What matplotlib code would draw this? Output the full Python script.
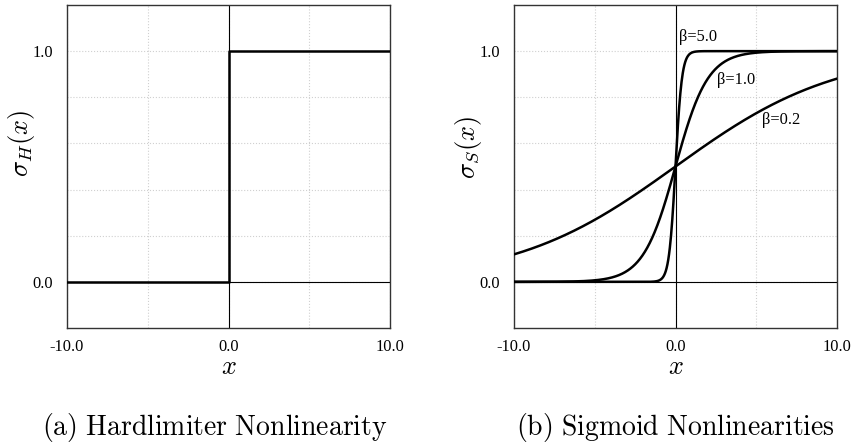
import numpy as np
import matplotlib
matplotlib.use("Agg")
import matplotlib.pyplot as plt

plt.rcParams['mathtext.fontset'] = 'cm'

# Data
step_x = [-10.0, 0.0, 0.0, 10.0]
step_y = [0.0, 0.0, 1.0, 1.0]
betas = [5.0, 1.0, 0.2]
beta_labels = ["β=5.0", "β=1.0", "β=0.2"]
label_pos = [(0.22, 1.06), (2.57, 0.874), (5.36, 0.70)]
x_ticks = [-10, -5, 0, 5, 10]
x_ticklabels = ["-10.0", "", "0.0", "", "10.0"]
y_ticks = [0.0, 0.2, 0.4, 0.6, 0.8, 1.0]
y_ticklabels = ["0.0", "", "", "", "", "1.0"]

xs = np.linspace(-10, 10, 801)

fig = plt.figure(figsize=(8.56, 4.46), dpi=100)
W, H = 856, 446
axA = fig.add_axes([67 / W, 1 - 328 / H, 323 / W, 323 / H])
axB = fig.add_axes([514 / W, 1 - 328 / H, 323 / W, 323 / H])

tick_font = dict(family='Liberation Serif', size=11.8)

def style(ax, ylabel, ly):
    ax.set_xlim(-10, 10)
    ax.set_ylim(-0.2, 1.2)
    ax.set_xticks(x_ticks)
    ax.set_xticklabels(x_ticklabels, fontdict=tick_font)
    ax.set_yticks(y_ticks)
    ax.set_yticklabels(y_ticklabels, fontdict=tick_font)
    ax.tick_params(axis='x', length=0, pad=8)
    ax.tick_params(axis='y', length=0, pad=10)
    ax.grid(True, color='#d0d0d0', linestyle=':', linewidth=0.8)
    ax.axhline(0, color='black', linewidth=0.8, zorder=2)
    ax.axvline(0, color='black', linewidth=0.8, zorder=2)
    for s in ax.spines.values():
        s.set_color('#333333')
        s.set_linewidth(1.0)
    ax.set_xlabel(r'$x$', fontsize=19)
    ax.xaxis.set_label_coords(0.5, -0.12)
    ax.xaxis.label.set_va('center')
    ax.set_ylabel(ylabel, fontsize=19)
    ax.yaxis.set_label_coords(-0.142, ly)
    ax.yaxis.label.set_va('center')

style(axA, r'$\sigma_H(x)$', 0.57)
style(axB, r'$\sigma_S(x)$', 0.56)

axA.plot(step_x, step_y, color='black', linewidth=1.8, zorder=3)

for b, lab, (lx, ly) in zip(betas, beta_labels, label_pos):
    axB.plot(xs, 1.0 / (1.0 + np.exp(-b * xs)), color='black', linewidth=1.8, zorder=3)
    axB.text(lx, ly, lab, fontdict=tick_font, ha='left', va='center')

fig.text(215 / W, 1 - 427 / H, r'$\mathrm{(a)\ Hardlimiter\ Nonlinearity}$',
         ha='center', va='center', fontsize=20)
fig.text(675 / W, 1 - 427 / H, r'$\mathrm{(b)\ Sigmoid\ Nonlinearities}$',
         ha='center', va='center', fontsize=20)

fig.savefig('out.png', dpi=100)
